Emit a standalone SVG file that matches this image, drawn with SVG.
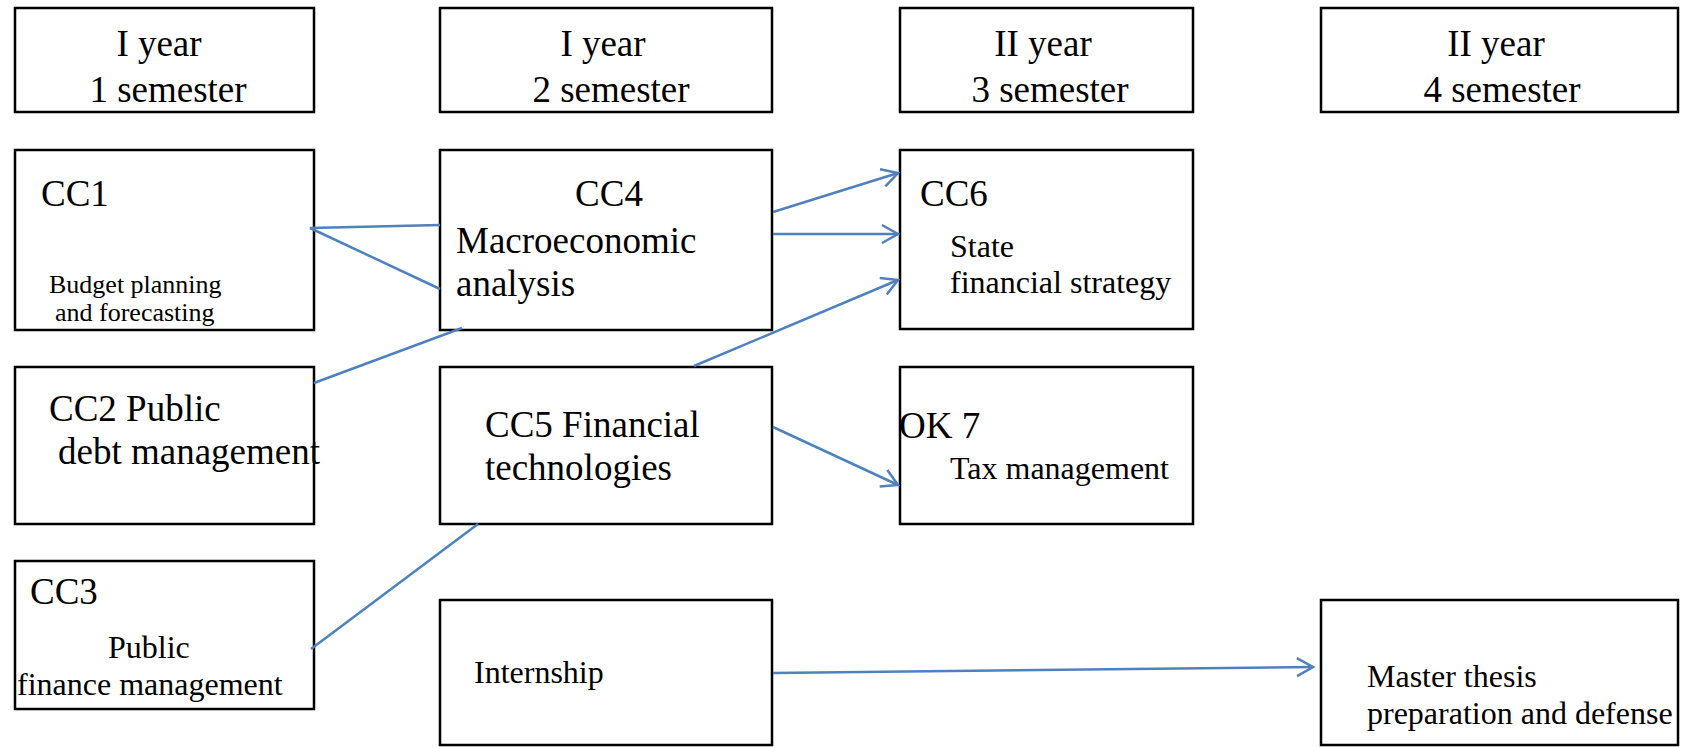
<svg xmlns="http://www.w3.org/2000/svg" width="1684" height="747" viewBox="0 0 1684 747">
<defs>
<style>
.box{fill:#fff;stroke:#000;stroke-width:2.5}
.t{font-family:"Liberation Serif","Times New Roman",serif;fill:#000}
.L{font-size:37px}
.M{font-size:32px}
.S{font-size:26px}
.c{text-anchor:middle}
.conn{stroke:#4f81bd;stroke-width:2.5;fill:none}
.arr{marker-end:url(#ah)}
</style>
<marker id="ah" markerUnits="userSpaceOnUse" markerWidth="22" markerHeight="24" viewBox="-19 -12 22 24" refX="0" refY="0" orient="auto">
<path d="M-16,-9 L0,0 L-16,9" fill="none" stroke="#4f81bd" stroke-width="2.5"/>
</marker>
</defs>
<rect width="1684" height="747" fill="#fff"/>

<g id="h1"><rect class="box" x="15" y="8" width="299" height="104"/>
<text class="t L c" x="159" y="56">I year</text><text class="t L c" x="168" y="102">1 semester</text></g>
<g id="h2"><rect class="box" x="440" y="8" width="332" height="104"/>
<text class="t L c" x="603" y="56">I year</text><text class="t L c" x="611" y="102">2 semester</text></g>
<g id="h3"><rect class="box" x="900" y="8" width="293" height="104"/>
<text class="t L c" x="1043" y="56">II year</text><text class="t L c" x="1050" y="102">3 semester</text></g>
<g id="h4"><rect class="box" x="1321" y="8" width="357" height="104"/>
<text class="t L c" x="1496" y="56">II year</text><text class="t L c" x="1502" y="102">4 semester</text></g>

<g id="cc1"><rect class="box" x="15" y="150" width="299" height="180"/>
<text class="t L" x="41" y="206">CC1</text>
<text class="t S" x="49" y="293">Budget planning</text>
<text class="t S" x="55" y="321">and forecasting</text></g>

<g id="cc4"><rect class="box" x="440" y="150" width="332" height="180"/>
<text class="t L c" x="609" y="206">CC4</text>
<text class="t L" x="456" y="253">Macroeconomic</text>
<text class="t L" x="456" y="296">analysis</text></g>

<g id="cc6"><rect class="box" x="900" y="150" width="293" height="179"/>
<text class="t L" x="920" y="206">CC6</text>
<text class="t M" x="950" y="257">State</text>
<text class="t M" x="950" y="293">financial strategy</text></g>

<g id="cc2"><rect class="box" x="15" y="367" width="299" height="157"/>
<text class="t L" x="49" y="421">CC2 Public</text>
<text class="t L" x="58" y="464">debt management</text></g>

<g id="cc5"><rect class="box" x="440" y="367" width="332" height="157"/>
<text class="t L" x="485" y="437">CC5 Financial</text>
<text class="t L" x="485" y="480">technologies</text></g>

<g id="ok7"><rect class="box" x="900" y="367" width="293" height="157"/>
<text class="t L" x="899" y="438">OK 7</text>
<text class="t M" x="950" y="479">Tax management</text></g>

<g id="cc3"><rect class="box" x="15" y="561" width="299" height="148"/>
<text class="t L" x="30" y="604">CC3</text>
<text class="t M" x="108" y="658">Public</text>
<text class="t M" x="17" y="695">finance management</text></g>

<g id="internship"><rect class="box" x="440" y="600" width="332" height="145"/>
<text class="t M" x="474" y="683">Internship</text></g>

<g id="thesis"><rect class="box" x="1321" y="600" width="357" height="145"/>
<text class="t M" x="1367" y="687">Master thesis</text>
<text class="t M" x="1367" y="724">preparation and defense</text></g>

<g id="connectors">
<polyline class="conn" points="440,225 310,228 440,289"/>
<line class="conn" x1="314" y1="383" x2="462" y2="328"/>
<line class="conn" x1="311" y1="649" x2="478" y2="524"/>
<line class="conn arr" x1="773" y1="212" x2="898" y2="173"/>
<line class="conn arr" x1="773" y1="234" x2="898" y2="234"/>
<line class="conn arr" x1="694" y1="366" x2="898" y2="280"/>
<line class="conn arr" x1="773" y1="427" x2="898" y2="485"/>
<line class="conn arr" x1="773" y1="673" x2="1313" y2="667"/>
</g>
</svg>
